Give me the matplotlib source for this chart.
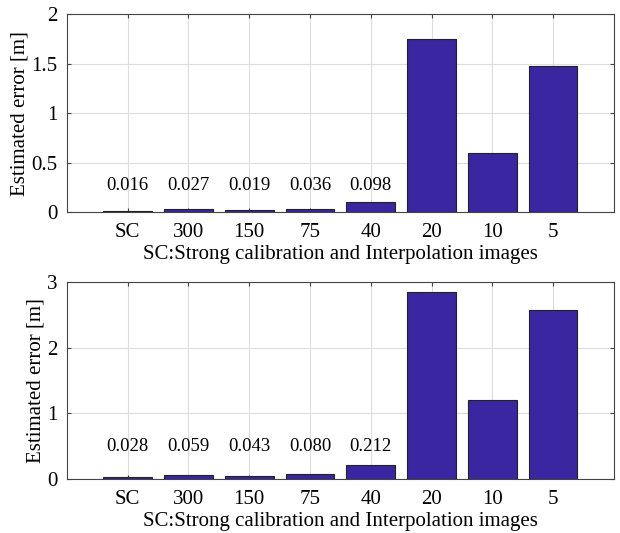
import matplotlib.pyplot as plt
import numpy as np

# Data
categories = ["SC", "300", "150", "75", "40", "20", "10", "5"]
error_top = [0.016, 0.027, 0.019, 0.036, 0.098, 1.75, 0.60, 1.48]
error_bottom = [0.028, 0.059, 0.043, 0.080, 0.212, 2.85, 1.20, 2.57]
labels_top = ["0.016", "0.027", "0.019", "0.036", "0.098"]
labels_bottom = ["0.028", "0.059", "0.043", "0.080", "0.212"]


def draw_panel(ax, values, labels, ymax, yticks, ytick_labels, label_y):
    x = np.arange(1, len(categories) + 1)
    ax.bar(x, values, width=0.8, color="#3a26a0", edgecolor="#222222",
           linewidth=0.8, zorder=3)

    for i, txt in enumerate(labels):
        ax.text(x[i], label_y, txt, ha="center", va="center", fontsize=13.5)

    ax.set_xlim(0, 9)
    ax.set_ylim(0, ymax)
    ax.set_xticks(x)
    ax.set_xticklabels(categories)
    ax.set_yticks(yticks)
    ax.set_yticklabels(ytick_labels)

    ax.tick_params(direction="in", top=True, right=True, labelsize=15,
                   length=3, color="#444444")
    ax.tick_params(axis="x", pad=8)
    ax.tick_params(axis="y", pad=7)
    ax.grid(True, color="#dddddd", linewidth=0.8, zorder=0)
    ax.set_axisbelow(True)
    for side in ax.spines.values():
        side.set_color("#444444")
        side.set_linewidth(0.8)

    ax.set_xlabel("SC:Strong calibration and Interpolation images", fontsize=15,
                  labelpad=2)
    ax.set_ylabel("Estimated error [m]", fontsize=15, labelpad=1)


def main():
    plt.rcParams["font.family"] = ["Liberation Serif", "DejaVu Serif"]

    fig = plt.figure(figsize=(6.2, 5.33), dpi=100)

    ax1 = fig.add_axes([0.108, 0.602, 0.882, 0.371])
    draw_panel(ax1, error_top, labels_top, 2, [0, 0.5, 1, 1.5, 2],
               ["0", "0.5", "1", "1.5", "2"], 0.27)

    ax2 = fig.add_axes([0.108, 0.101, 0.882, 0.370])
    draw_panel(ax2, error_bottom, labels_bottom, 3, [0, 1, 2, 3],
               ["0", "1", "2", "3"], 0.49)

    fig.savefig("out.png", dpi=100)


if __name__ == "__main__":
    main()
